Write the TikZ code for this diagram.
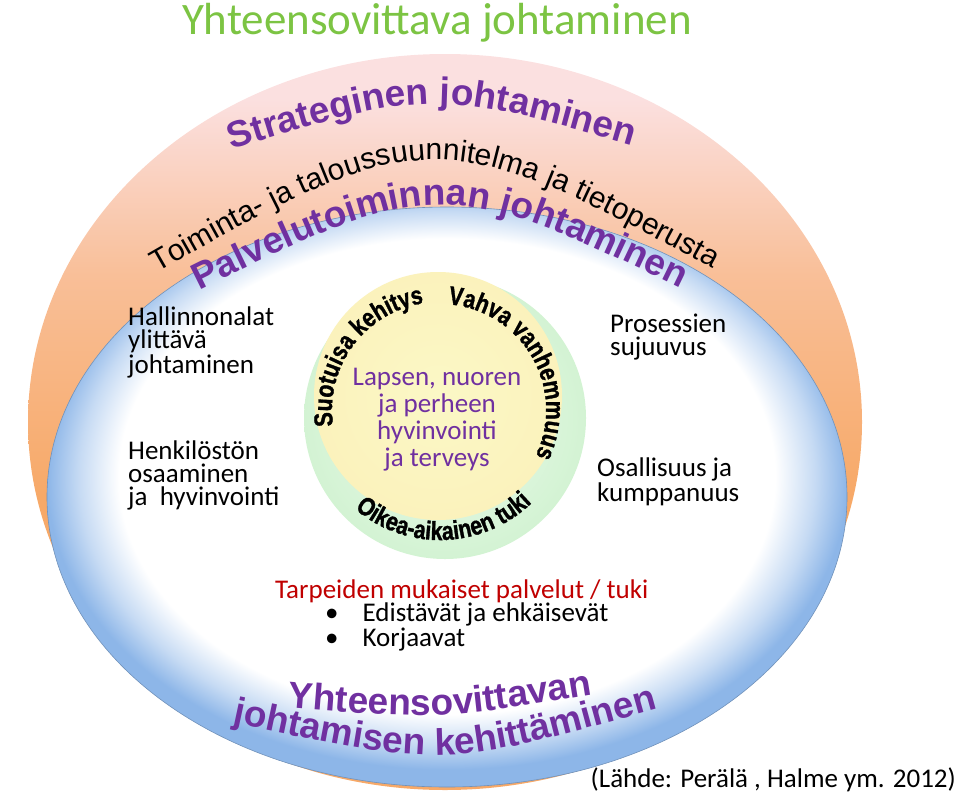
\documentclass[tikz,border=0pt]{standalone}
\usepackage{fontspec}
\setmainfont{Carlito}
\setsansfont{Liberation Sans}
\newfontfamily\circfam[FakeStretch=0.82,FakeBold=1.2]{Liberation Sans Bold}
\usetikzlibrary{decorations.text}
\definecolor{purp}{HTML}{7030A0}
\definecolor{ttlgreen}{HTML}{7CC443}
\definecolor{darkred}{HTML}{C00000}
\definecolor{pinkt}{HTML}{FBE0E0}
\definecolor{orng}{HTML}{F7A968}
\definecolor{bluefill}{HTML}{8DB6E8}
\definecolor{yel}{HTML}{FBF8C6}
\definecolor{grn}{HTML}{D3F3D3}
\pgfdeclareradialshading{bluering}{\pgfpoint{0bp}{3bp}}{color(0bp)=(white);color(20.5bp)=(white);color(23bp)=(bluefill!50);color(25bp)=(bluefill);color(50bp)=(bluefill)}
\pgfdeclareverticalshading{outerfill}{100bp}{color(0bp)=(orng);color(45bp)=(orng);color(60bp)=(orng!60!pinkt);color(72bp)=(pinkt);color(100bp)=(pinkt)}
\newcommand\fstrat{\fontsize{37}{37}\selectfont\sffamily\bfseries}
\newcommand\ftoim{\fontsize{30}{30}\selectfont\sffamily}
\newcommand\fcirc{\fontsize{26}{26}\selectfont\circfam}
\tikzset{
  curved/.style={decorate,decoration={text along path,text align=center,text format delimiters={|}{|},text color=#1}},
  body/.style={font=\fontsize{27}{23}\selectfont,align=left,anchor=north west,inner sep=0pt},
}
\begin{document}
\begin{tikzpicture}[x=1pt,y=1pt]
\useasboundingbox (0,0) rectangle (960,-798);
% outer ellipse
\shade[shading=outerfill] (445,-422) ellipse [x radius=417,y radius=368];
% blue ellipse
\shade[shading=bluering,draw=bluefill!80!black,line width=0.6pt] (447,-497) ellipse [x radius=400,y radius=290];
% central circles
\shade[inner color=grn!40,outer color=grn] (445,-418) circle[radius=141];
\shade[inner color=yel,outer color=yel!95!orange] (438,-396) circle[radius=124];
% title
\node[font=\fontsize{45}{45}\selectfont,text=ttlgreen,anchor=base] (title) at (437,-34) {Yhteensovittava johtaminen};
% curved outer texts
\path[curved=purp,decoration={text={|\fstrat|Strateginen johtaminen}}] (200,-160) .. controls (432,-86) .. (664,-155);
\path[curved=black,decoration={text={|\ftoim|Toiminta- ja taloussuunnitelma ja tietoperusta}}] (110,-300) .. controls (432,-114) .. (760,-295);
\path[curved=purp,decoration={text={|\fstrat|Palvelutoiminnan johtaminen}}] (160,-310) .. controls (440,-170) .. (720,-308);
% bottom curved texts
\path[curved=purp,decoration={text={|\fstrat|Yhteensovittavan}}] (270,-706) .. controls (440,-720) .. (610,-692);
\path[curved=purp,decoration={text={|\fstrat|johtamisen kehittäminen}}] (230,-722) .. controls (445,-768) .. (660,-708);
% circle texts
\path[curved=black,decoration={text={|\fcirc|Suotuisa kehitys}}] (440,-410) ++(225:108) arc (225:62:108);
\path[curved=black,decoration={text={|\fcirc|Vahva vanhemmuus}}] (440,-410) ++(112:106) arc (112:-52:106);
\path[curved=black,decoration={text={|\fcirc|Oikea-aikainen tuki}}] (440,-408) ++(-170:132) arc (-170:-6:132);
% center text
\node[font=\fontsize{27}{27}\selectfont,text=purp,align=center] (center) at (437,-420) {Lapsen, nuoren\\ja perheen\\hyvinvointi\\ja terveys};
% side texts
\node[body] (hall) at (128,-307) {Hallinnonalat\\ylittävä\\johtaminen};
\node[body] (henk) at (128,-441) {Henkilöstön\\osaaminen\\ja\ \ hyvinvointi};
\node[body] (pros) at (610,-314) {Prosessien\\sujuuvus};
\node[body] (osal) at (597,-458) {Osallisuus ja\\kumppanuus};
\node[body,text=darkred] (tarp) at (275,-580) {Tarpeiden mukaiset palvelut / tuki};
\node[body] (edis) at (325,-603) {\textbullet\hspace{24pt}Edistävät ja ehkäisevät\\\textbullet\hspace{24pt}Korjaavat};
\node[font=\fontsize{27}{27}\selectfont,anchor=east,inner sep=0pt] (src) at (956,-780) {(Lähde: Perälä , Halme ym. 2012)};
\end{tikzpicture}
\end{document}
